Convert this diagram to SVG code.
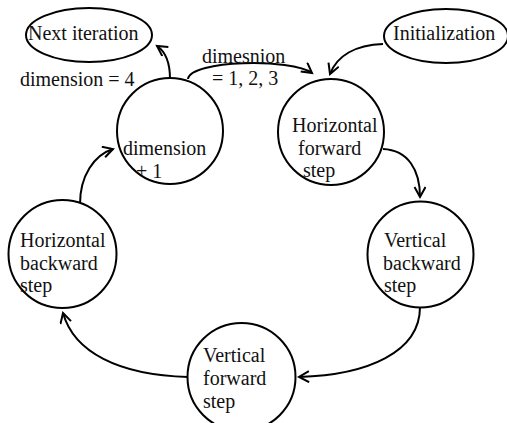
<svg xmlns="http://www.w3.org/2000/svg" width="507" height="423" viewBox="0 0 507 423">
<style>
.n{fill:#fff;stroke:#000;stroke-width:2}
.t{font-family:"Liberation Serif","Times New Roman",serif;font-size:20px;fill:#111}
.c{fill:none;stroke:#000;stroke-width:2}
</style>
<defs>
<marker id="a" markerUnits="userSpaceOnUse" markerWidth="14" markerHeight="14" refX="11" refY="6" orient="auto">
<path d="M1,0.5 L11,6 L1,11.5" fill="none" stroke="#000" stroke-width="2"/>
</marker>
</defs>
<rect width="507" height="423" fill="#fff"/>
<g id="connectors">
<path class="c" d="M170,79 C170,62 166,52 157,46" marker-end="url(#a)"/>
<path class="c" d="M188,79 C190,60 292,58 312,73" marker-end="url(#a)"/>
<path class="c" d="M383,44 C355,45 337,56 330,74" marker-end="url(#a)"/>
<path class="c" d="M383,149 C408,150 420,170 420,197" marker-end="url(#a)"/>
<path class="c" d="M420,307 C420,352 368,375 299,377" marker-end="url(#a)"/>
<path class="c" d="M188,377 C118,375 74,352 63,313" marker-end="url(#a)"/>
<path class="c" d="M80,204 C80,176 94,155 113,149" marker-end="url(#a)"/>
</g>
<g id="next-iteration">
<ellipse class="n" cx="89" cy="35" rx="63" ry="27" fill="none"/>
<text class="t" x="28" y="40">Next iteration</text>
</g>
<g id="initialization">
<ellipse class="n" cx="446" cy="36" rx="62" ry="27"/>
<text class="t" x="393" y="40">Initialization</text>
</g>
<g id="label-dim4">
<text class="t" x="20" y="86">dimension = 4</text>
</g>
<g id="label-dim123">
<text class="t" x="202" y="63">dimesnion</text>
<text class="t" x="212" y="85">= 1, 2, 3</text>
</g>
<g id="dimension-plus-1">
<circle class="n" cx="170" cy="131" r="53" fill="none"/>
<text class="t" x="123" y="155">dimension</text>
<text class="t" x="136" y="178">+ 1</text>
</g>
<g id="horizontal-forward">
<circle class="n" cx="331" cy="132" r="53"/>
<text class="t" x="292" y="132">Horizontal</text>
<text class="t" x="298" y="155">forward</text>
<text class="t" x="303" y="177">step</text>
</g>
<g id="vertical-backward">
<circle class="n" cx="420.5" cy="254.5" r="53"/>
<text class="t" x="384" y="247">Vertical</text>
<text class="t" x="383" y="270">backward</text>
<text class="t" x="384" y="292">step</text>
</g>
<g id="horizontal-backward">
<circle class="n" cx="62.5" cy="254" r="54"/>
<text class="t" x="20" y="247">Horizontal</text>
<text class="t" x="20" y="270">backward</text>
<text class="t" x="20" y="292">step</text>
</g>
<g id="vertical-forward">
<circle class="n" cx="241.5" cy="377" r="54"/>
<text class="t" x="203" y="362">Vertical</text>
<text class="t" x="203" y="385">forward</text>
<text class="t" x="203" y="408">step</text>
</g>
</svg>
